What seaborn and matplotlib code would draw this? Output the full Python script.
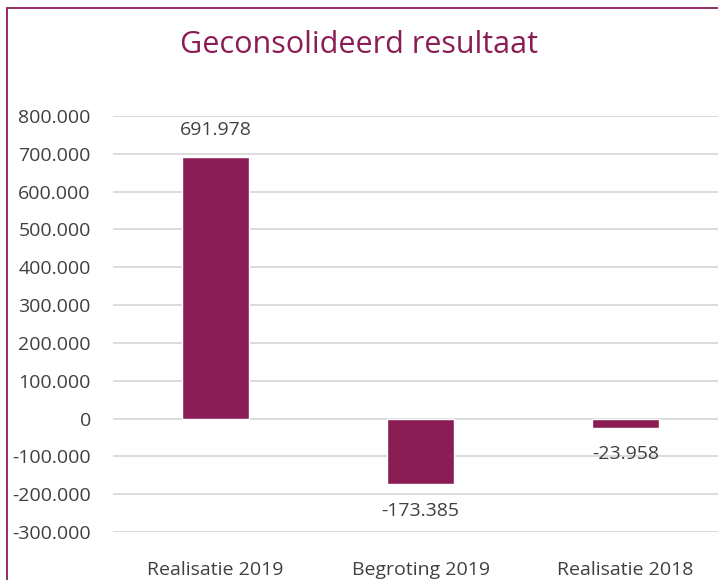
import matplotlib
matplotlib.use("Agg")
import matplotlib.pyplot as plt
import matplotlib.ticker as mticker
import pandas as pd
import seaborn as sns
from matplotlib.patches import Rectangle

categories = ["Realisatie 2019", "Begroting 2019", "Realisatie 2018"]
values = [691978, -173385, -23958]
title = "Geconsolideerd resultaat"

MAROON = "#8B1D55"
TEXT = "#404040"

sns.set_theme(style="white")
plt.rcParams["font.family"] = ["Open Sans", "DejaVu Sans"]


def fmt_nl(v, _pos=None):
    return f"{v:,.0f}".replace(",", ".")


df = pd.DataFrame({"cat": categories, "val": values})

fig = plt.figure(figsize=(7.18, 5.8), dpi=100)
ax = fig.add_axes([113 / 718, 1 - 532 / 580, 615 / 718, (532 - 116) / 580])

sns.barplot(data=df, x="cat", y="val", color=MAROON, width=0.33, saturation=1, ax=ax, zorder=3)

ax.set_ylim(-300000, 800000)
ax.set_xlim(-0.5, 2.5)
ax.yaxis.set_major_locator(mticker.MultipleLocator(100000))
ax.yaxis.set_major_formatter(mticker.FuncFormatter(fmt_nl))
ax.grid(axis="y", color="#D9D9D9", linewidth=1.3, zorder=0)
for s in ax.spines.values():
    s.set_visible(False)
ax.set_xlabel("")
ax.set_ylabel("")
ax.tick_params(axis="y", length=0, pad=16, labelsize=14, labelcolor=TEXT)
ax.tick_params(axis="x", length=0, pad=21, labelsize=14, labelcolor=TEXT)

for i, v in enumerate(values):
    off = 19 if v > 0 else -19
    ax.annotate(fmt_nl(v), (i, v), xytext=(0, off), textcoords="offset points",
                ha="center", va="center", fontsize=14, color=TEXT)

fig.text(0.5, 1 - 45 / 580, title, ha="center", va="center", fontsize=22, color=MAROON)

fig.patches.append(Rectangle((7 / 718, -0.05), 1.1, 1 - 8 / 580 + 0.05, transform=fig.transFigure,
                             fill=False, edgecolor=MAROON, linewidth=1.3))

fig.savefig("out.png", dpi=100)
